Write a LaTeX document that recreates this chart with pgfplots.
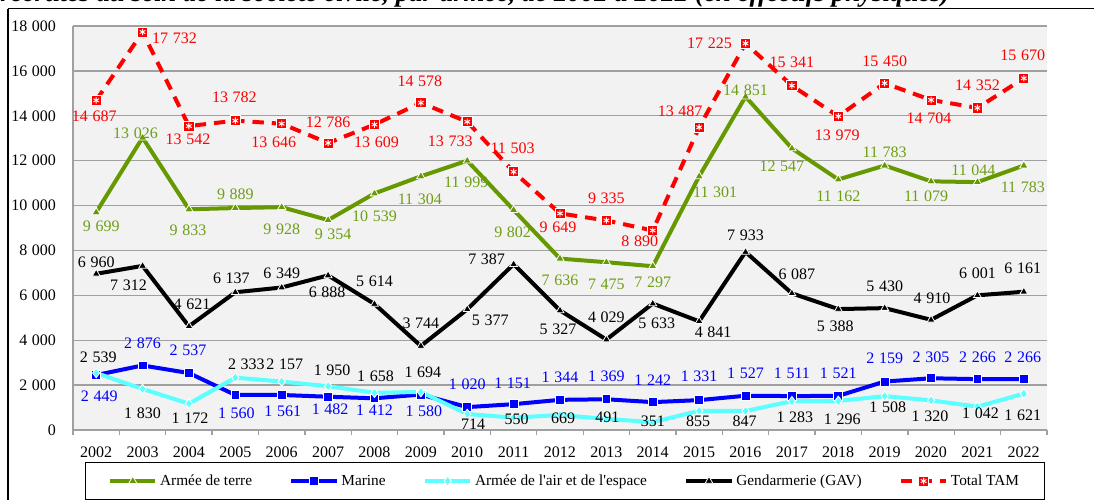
\documentclass[border=0pt]{standalone}
\usepackage{pgfplots}
\usepackage{pgfplotstable}
\pgfplotsset{compat=1.18}
\usepackage{fontspec}
\setmainfont{Liberation Serif}
\definecolor{terre}{HTML}{669900}
\definecolor{terrelab}{HTML}{6E9E16}
\definecolor{marine}{HTML}{0000FF}
\definecolor{air}{HTML}{5CFFFF}
\definecolor{tam}{HTML}{FF0000}
\definecolor{gridc}{HTML}{A0A0A0}

\pgfplotstableread{
x y dx dy
2002 9699 5 -14
2003 13026 -7 4
2004 9833 -1 -21
2005 9889 0 14
2006 9928 0 -22
2007 9354 5 -14
2008 10539 0 -23
2009 11304 -1 -23
2010 11999 -1 -22
2011 9802 -1 -22
2012 7636 0 -22
2013 7475 0 -22
2014 7297 0 -16
2015 11301 16 -16
2016 14851 0 6
2017 12547 -10 -18
2018 11162 0 -17
2019 11783 0 13
2020 11079 -5 -15
2021 11044 -4 12
2022 11783 -1 -22
}\terretab

\pgfplotstableread{
x y dx dy
2002 2449 3 -21
2003 2876 0 22
2004 2537 -1 23
2005 1560 1 -18
2006 1561 1 -16
2007 1482 2 -13
2008 1412 0 -12
2009 1580 3 -17
2010 1020 0 23
2011 1151 -1 21
2012 1344 0 23
2013 1369 0 23
2014 1242 0 22
2015 1331 0 24
2016 1527 0 22
2017 1511 0 23
2018 1521 0 23
2019 2159 0 23
2020 2305 0 21
2021 2266 0 22
2022 2266 -1 22
}\marinetab

\pgfplotstableread{
x y dx dy
2002 2539 2 16
2003 1830 0 -24
2004 1172 1 -15
2005 2333 11 13
2006 2157 3 17
2007 1950 4 16
2008 1658 1 17
2009 1694 2 20
2010 714 6 -10
2011 550 3 -2
2012 669 3 -3
2013 491 1 2
2014 351 0 1
2015 855 -1 -10
2016 847 -1 -10
2017 1283 3 -16
2018 1296 4 -18
2019 1508 3 -11
2020 1320 -1 -16
2021 1042 3 -7
2022 1621 -1 -22
}\airtab

\pgfplotstableread{
x y dx dy
2002 6960 0 12
2003 7312 -14 -19
2004 4621 3 22
2005 6137 -4 14
2006 6349 0 14
2007 6888 -1 -17
2008 5614 0 23
2009 3744 0 23
2010 5377 23 -11
2011 7387 -27 5
2012 5327 -2 -19
2013 4029 0 22
2014 5633 4 -20
2015 4841 14 -11
2016 7933 0 17
2017 6087 5 19
2018 5388 -3 -17
2019 5430 0 22
2020 4910 1 22
2021 6001 0 22
2022 6161 -1 23
}\gendtab

\pgfplotstableread{
x y dx dy
2002 14687 -2 -16
2003 17732 32 -6
2004 13542 -1 -13
2005 13782 -1 23
2006 13646 -8 -19
2007 12786 0 21
2008 13609 2 -18
2009 14578 -1 22
2010 13733 -17 -20
2011 11503 -1 24
2012 9649 -2 -14
2013 9335 0 22
2014 8890 -13 -11
2015 13487 -19 16
2016 17225 -36 0
2017 15341 0 23
2018 13979 -1 -19
2019 15450 0 22
2020 14704 -2 -18
2021 14352 0 23
2022 15670 -1 23
}\tamtab

\pgfplotsset{
  lab/.style={
    nodes near coords,
    point meta=explicit,
    visualization depends on={\thisrow{dx} \as \dx},
    visualization depends on={\thisrow{dy} \as \dy},
    nodes near coords align={center},
    nodes near coords style={anchor=center, inner sep=0pt, font=\fontsize{12}{14}\selectfont,
      xshift={0.75pt*\dx}, yshift={0.75pt*\dy}, solid},
  },
  sterre/.style={terre, line width=3pt, mark=triangle*, mark size=3.6pt,
    mark options={fill=terre, draw=white, line width=0.6pt}},
  smarine/.style={marine, line width=3pt, mark=square*, mark size=3.3pt,
    mark options={fill=marine, draw=white, line width=0.6pt}},
  sair/.style={air, line width=3pt, mark=diamond*, mark size=3.6pt,
    mark options={fill=air, draw=white, line width=0.6pt}},
  sgend/.style={black, line width=3pt, mark=triangle*, mark size=3.4pt,
    mark options={fill=black, draw=white, line width=0.6pt}},
  stam/.style={tam, line width=3pt, dash pattern=on 8.5pt off 6pt, mark=square*, mark size=3.8pt,
    mark options={solid, fill=tam, draw=white, line width=0.6pt}},
}

\begin{document}
\begin{tikzpicture}
\useasboundingbox (0pt,0pt) rectangle (820.5pt,375pt);
\clip (0pt,0pt) rectangle (820.5pt,375pt);
\node[anchor=base west, inner sep=0pt] at (0pt,373.6pt)
  {\resizebox{712pt}{!}{\bfseries\itshape recrutés au sein de la société civile, par armée, de 2002 à 2022 (en effectifs physiques)}};
\draw[line width=1pt] (6pt,368.6pt) -- (820.5pt,368.6pt);
\draw[line width=0.8pt] (6pt,368.6pt) -- (6pt,0pt);
\begin{axis}[
  at={(54.75pt,52.5pt)}, anchor=south west,
  scale only axis, width=730.5pt, height=303pt,
  xmin=2001.5, xmax=2022.5, ymin=0, ymax=18000,
  clip=false,
  axis x line*=bottom, axis y line*=left,
  axis line style={draw=gridc, line width=1pt},
  axis background/.style={fill=black!5},
  ymajorgrids, grid style={draw=gridc, line width=1pt},
  ytick={0,2000,...,18000},
  xtick={2002,...,2022},
  xticklabels={2002,2003,2004,2005,2006,2007,2008,2009,2010,2011,2012,2013,2014,2015,2016,2017,2018,2019,2020,2021,2022},
  major tick style={draw=none},
  minor xtick={2001.5,2002.5,...,2022.5},
  tick align=outside,
  minor tick length=4pt,
  minor tick style={draw=gridc, line width=1pt},
  tick label style={font=\fontsize{12}{14}\selectfont},
  yticklabel style={xshift=-5pt},
  xticklabel style={yshift=-5pt},
  scaled y ticks=false,
  /pgf/number format/fixed,
  /pgf/number format/1000 sep={\hspace{3.5pt}},
  /pgf/number format/assume math mode=true,
  legend columns=5,
  legend cell align=left,
  legend style={at={(0.505,-0.0792)}, anchor=north, draw=black, line width=1.1pt,
    font=\fontsize{11.5}{13}\selectfont, inner xsep=17pt, inner ysep=7pt,
    /tikz/every even column/.append style={column sep=26pt}},
  legend image code/.code={\draw[mark repeat=2,mark phase=2] plot coordinates {(0pt,0pt)(17pt,0pt)(34pt,0pt)};},
]
\addplot[sterre, lab, nodes near coords style={text=terrelab}, forget plot]
  table[x=x, y=y, meta=y] {\terretab};
\addplot[smarine, lab, nodes near coords style={text=marine}, forget plot]
  table[x=x, y=y, meta=y] {\marinetab};
\addplot[sair, lab, nodes near coords style={text=black}, forget plot]
  table[x=x, y=y, meta=y] {\airtab};
\addplot[sgend, lab, nodes near coords style={text=black}, forget plot]
  table[x=x, y=y, meta=y] {\gendtab};
\addplot[stam, lab, nodes near coords style={text=tam}, forget plot]
  table[x=x, y=y, meta=y] {\tamtab};
\addplot[only marks, white, mark=asterisk, mark size=2.4pt, mark options={solid, line width=0.7pt}, forget plot]
  table[x=x, y=y] {\tamtab};
\addlegendimage{sterre}
\addlegendentry{Armée de terre}
\addlegendimage{smarine}
\addlegendentry{Marine}
\addlegendimage{sair}
\addlegendentry{Armée de l\textquotesingle air et de l\textquotesingle espace}
\addlegendimage{sgend}
\addlegendentry{Gendarmerie (GAV)}
\addlegendimage{stam, legend image code/.code={\draw[mark repeat=2,mark phase=2] plot coordinates {(0pt,0pt)(17pt,0pt)(34pt,0pt)};
    \draw[white, mark=asterisk, mark size=2.4pt, mark options={solid, line width=0.7pt}] plot coordinates {(17pt,0pt)};}}
\addlegendentry{Total TAM}
\end{axis}
\end{tikzpicture}
\end{document}
